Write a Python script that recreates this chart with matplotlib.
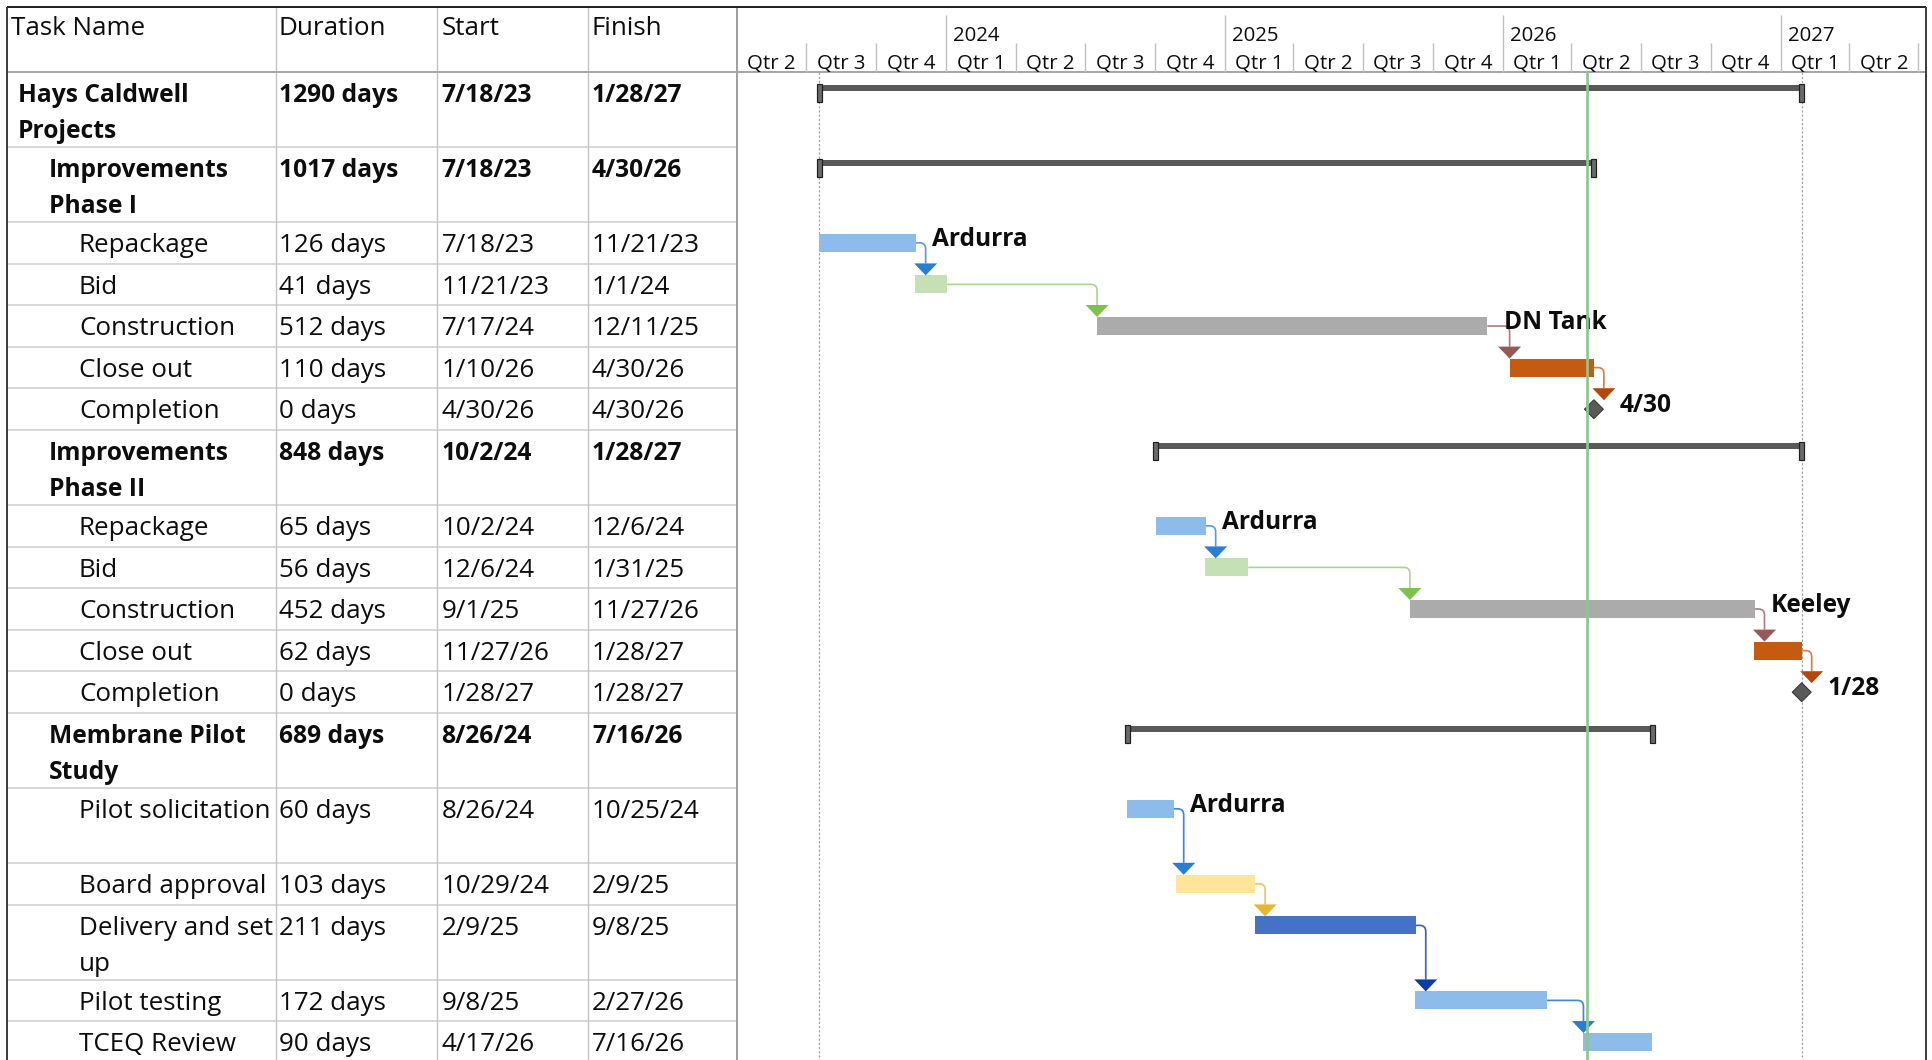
import matplotlib
matplotlib.use('Agg')
import matplotlib.pyplot as plt
import matplotlib.dates as mdates
from matplotlib.patches import Polygon, Rectangle, PathPatch
from matplotlib.path import Path
from datetime import datetime
import pandas as pd

FONT = 'Open Sans'
plt.rcParams['font.family'] = [FONT, 'DejaVu Sans']

# ---------------- data ----------------
headers = ["Task Name", "Duration", "Start", "Finish"]
task_names = ["Hays Caldwell\nProjects", "Improvements\nPhase I", "Repackage", "Bid",
              "Construction", "Close out", "Completion",
              "Improvements\nPhase II", "Repackage", "Bid", "Construction", "Close out",
              "Completion", "Membrane Pilot\nStudy", "Pilot solicitation", "Board approval",
              "Delivery and set\nup", "Pilot testing", "TCEQ Review"]
outline_level = [0, 1, 2, 2, 2, 2, 2, 1, 2, 2, 2, 2, 2, 1, 2, 2, 2, 2, 2]
row_lines = [2, 2, 1, 1, 1, 1, 1, 2, 1, 1, 1, 1, 1, 2, 2, 1, 2, 1, 1]
durations = ["1290 days", "1017 days", "126 days", "41 days", "512 days", "110 days", "0 days",
             "848 days", "65 days", "56 days", "452 days", "62 days", "0 days",
             "689 days", "60 days", "103 days", "211 days", "172 days", "90 days"]
start_dates = ["7/18/23", "7/18/23", "7/18/23", "11/21/23", "7/17/24", "1/10/26", "4/30/26",
               "10/2/24", "10/2/24", "12/6/24", "9/1/25", "11/27/26", "1/28/27",
               "8/26/24", "8/26/24", "10/29/24", "2/9/25", "9/8/25", "4/17/26"]
finish_dates = ["1/28/27", "4/30/26", "11/21/23", "1/1/24", "12/11/25", "4/30/26", "4/30/26",
                "1/28/27", "12/6/24", "1/31/25", "11/27/26", "1/28/27", "1/28/27",
                "7/16/26", "10/25/24", "2/9/25", "9/8/25", "2/27/26", "7/16/26"]
task_type = ["summary", "summary", "task", "task", "task", "task", "milestone",
             "summary", "task", "task", "task", "task", "milestone",
             "summary", "task", "task", "task", "task", "task"]
bar_colors = [None, None, "#8DBCEB", "#C5E0B4", "#ABABAB", "#C55A11", None,
              None, "#8DBCEB", "#C5E0B4", "#ABABAB", "#C55A11", None,
              None, "#8DBCEB", "#FFE599", "#4472C4", "#8DBCEB", "#8DBCEB"]
resource_labels = {2: "Ardurra", 4: "DN Tank", 8: "Ardurra", 10: "Keeley", 14: "Ardurra"}
links = [(2, 3), (3, 4), (4, 5), (5, 6), (8, 9), (9, 10), (10, 11), (11, 12),
         (14, 15), (15, 16), (16, 17), (17, 18)]
link_head_colors = ["#2B7CD3", "#7DC24A", "#985858", "#B5470B",
                    "#2B7CD3", "#7DC24A", "#985858", "#B5470B",
                    "#2B7CD3", "#E5B733", "#0A3EA6", "#2B7CD3"]
link_line_colors = ["#5B9BDE", "#A9D592", "#B07C7C", "#D0804F",
                    "#5B9BDE", "#A9D592", "#B07C7C", "#D0804F",
                    "#3F87D6", "#EBC45C", "#3A62B5", "#3F87D6"]
status_date = "4/22/26"
timescale_start = "4/1/23"
timescale_end = "7/11/27"


def pdate(s):
    return datetime.strptime(s, "%m/%d/%y")


# ---------------- layout ----------------
W, H = 1933, 1060
fig = plt.figure(figsize=(W / 100, H / 100), dpi=100)
ax0 = fig.add_axes([0, 0, 1, 1])
ax0.set_xlim(0, W)
ax0.set_ylim(H, 0)
ax0.axis('off')

PX = 72 / 100  # points per pixel
TOP, HDR, LEFT, RIGHT, SPLIT = 7, 72, 7, 1926, 737
COLS = [276, 437.5, 588]
TEXT_X = [11, 279, 441.5, 592]
INDENT = [18, 49, 79]
H1, H2 = 41.6, 75.0
LINE_GAP = 36.7
TXT = '#0D0D0D'

row_top = []
yy = HDR
for n in row_lines:
    row_top.append(yy)
    yy += H2 if n == 2 else H1
row_bottom = row_top[1:] + [yy]
anchor = [t + 20.8 for t in row_top]

renderer = fig.canvas.get_renderer()


def tw(s, size, weight='normal'):
    t = ax0.text(0, 0, s, fontsize=size, fontweight=weight)
    w = t.get_window_extent(renderer=renderer).width
    t.remove()
    return w


fs_reg = 0.5 * (16 * 126 / tw('Repackage', 16) + 16 * 162 / tw('Construction', 16))
fs_bold = 0.5 * (16 * 173.4 / tw('Hays Caldwell', 16, 'bold') + 16 * 177.4 / tw('Improvements', 16, 'bold'))
fs_lab = 0.5 * (16 * 96 / tw('Ardurra', 16, 'bold') + 16 * 81 / tw('Keeley', 16, 'bold'))
fs_hdr = 0.5 * (16 * 48 / tw('Qtr 1', 16) + 16 * 47 / tw('2026', 16))
CAP = 0.714 * 100 / 72  # cap height in px per pt


def half_cap(fs):
    return CAP * fs / 2


# ---------------- table ----------------
ax0.hlines(row_bottom, LEFT, SPLIT, color='#D9D9D9', lw=2 * PX, zorder=1)
ax0.vlines(COLS, TOP, H, color='#C4C4C4', lw=1.4 * PX, zorder=2)
ax0.vlines(SPLIT, TOP, H, color='#A0A0A0', lw=2 * PX, zorder=3)
ax0.hlines(HDR, LEFT, RIGHT, color='#A6A6A6', lw=2 * PX, zorder=3)
ax0.hlines(TOP, LEFT, RIGHT, color='#262626', lw=2 * PX, zorder=4)
ax0.vlines([LEFT, RIGHT], TOP, H, color='#404040', lw=2 * PX, zorder=4)

for j, h in enumerate(headers):
    ax0.text(TEXT_X[j], 35, h, fontsize=fs_reg, va='baseline', color=TXT)

for i, name in enumerate(task_names):
    bold = task_type[i] == 'summary'
    fs = fs_bold if bold else fs_reg
    wt = 'bold' if bold else 'normal'
    yb = anchor[i] + half_cap(fs)
    for k, line in enumerate(name.split('\n')):
        ax0.text(INDENT[outline_level[i]], yb + k * LINE_GAP, line, fontsize=fs,
                 fontweight=wt, va='baseline', color=TXT)
    for j, val in enumerate([durations[i], start_dates[i], finish_dates[i]]):
        ax0.text(TEXT_X[j + 1], yb, val, fontsize=fs, fontweight=wt, va='baseline', color=TXT)

# ---------------- gantt ----------------
gx = fig.add_axes([SPLIT / W, 0, (RIGHT - SPLIT) / W, 1])
gx.set_ylim(H, 0)
t0 = mdates.date2num(pdate(timescale_start))
t1 = mdates.date2num(pdate(timescale_end))
gx.set_xlim(t0, t1)
gx.axis('off')
gx.patch.set_visible(False)
DPP = (t1 - t0) / (RIGHT - SPLIT)  # days per pixel

# timescale header
qs = list(pd.date_range(pdate(timescale_start), pdate(timescale_end), freq='QS'))
qs_next = qs[1:] + [qs[-1] + pd.DateOffset(months=3)]
for q, qn in zip(qs, qs_next):
    xq = mdates.date2num(q)
    if xq > t0 + 1:
        gx.vlines(xq, 15 if q.month == 1 else 43, HDR, color='#C0C0C0', lw=1.4 * PX, zorder=1)
    mid = (xq + mdates.date2num(qn)) / 2
    if mid < t1:
        gx.text(mid, 68.5, f"Qtr {(q.month - 1) // 3 + 1}", ha='center', va='baseline',
                fontsize=fs_hdr, color=TXT)
    if q.month == 1:
        gx.text(xq + 7 * DPP, 41, str(q.year), va='baseline', fontsize=fs_hdr, color=TXT)

s_num = [mdates.date2num(pdate(s)) for s in start_dates]
f_num = [mdates.date2num(pdate(f)) + 0.7 for f in finish_dates]

# project start / finish lines
gx.vlines([s_num[0], f_num[0]], HDR, H, color='#A0A0A0', lw=1.2 * PX,
          linestyles=(0, (2, 1.5)), zorder=1)

for i in range(len(task_names)):
    s, f, a = s_num[i], f_num[i], anchor[i]
    if task_type[i] == 'summary':
        gx.barh(row_top[i] + 16, f - s, left=s, height=6, color='#595959', zorder=3)
        for xc in (s, f):
            gx.add_patch(Rectangle((xc - 2.5 * DPP, row_top[i] + 11.5), 5 * DPP, 18,
                                   fc='#6A6A6A', ec='#1F1F1F', lw=1.2 * PX, zorder=4))
    elif task_type[i] == 'task':
        gx.barh(a, f - s, left=s, height=18, color=bar_colors[i], zorder=3)
        if i in resource_labels:
            gx.text(f + 16.5 * DPP, a - 6 + half_cap(fs_lab), resource_labels[i],
                    fontsize=fs_lab, fontweight='bold', va='baseline', color=TXT)
    else:
        gx.add_patch(Polygon([(f - 9.5 * DPP, a), (f, a - 9.5), (f + 9.5 * DPP, a), (f, a + 9.5)],
                             closed=True, fc='#5A5A5A', ec='#333333', lw=1 * PX, zorder=5))
        d = pdate(finish_dates[i])
        gx.text(f + 26 * DPP, a - 6 + half_cap(fs_lab), f"{d.month}/{d.day}",
                fontsize=fs_lab, fontweight='bold', va='baseline', color=TXT)

# dependency links
R = 6
for (p, q), hc, lc in zip(links, link_head_colors, link_line_colors):
    xe, ye = f_num[p], anchor[p]
    xa = max(s_num[q], xe + 10 * DPP)
    ytip = anchor[q] - 9
    ybase = ytip - 12
    verts = [(xe, ye), (xa - R * DPP, ye), (xa, ye), (xa, ye + R), (xa, ybase)]
    codes = [Path.MOVETO, Path.LINETO, Path.CURVE3, Path.CURVE3, Path.LINETO]
    gx.add_patch(PathPatch(Path(verts, codes), fc='none', ec=lc, lw=1.7 * PX, zorder=2))
    gx.add_patch(Polygon([(xa - 11.5 * DPP, ybase), (xa + 11.5 * DPP, ybase), (xa, ytip)],
                         closed=True, fc=hc, ec='none', zorder=4))

# status date line
gx.vlines(mdates.date2num(pdate(status_date)), HDR, H, color='#8DC78B', lw=2.7 * PX, zorder=6)

fig.savefig('out.png', dpi=100)
